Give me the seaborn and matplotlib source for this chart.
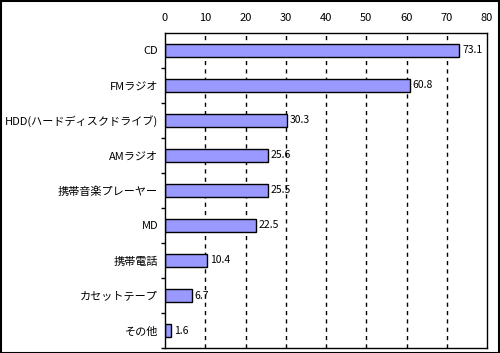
import matplotlib
matplotlib.use('Agg')
import matplotlib.pyplot as plt
import seaborn as sns
import pandas as pd
import numpy as np
from matplotlib.patches import Rectangle

sns.set_theme(style="white")
plt.rcParams['font.family'] = ['Noto Sans CJK JP', 'DejaVu Sans']

categories = ['CD', 'FMラジオ', 'HDD(ハードディスクドライブ)', 'AMラジオ', '携帯音楽プレーヤー',
              'MD', '携帯電話', 'カセットテープ', 'その他']
values = [73.1, 60.8, 30.3, 25.6, 25.5, 22.5, 10.4, 6.7, 1.6]
xticks = [0, 10, 20, 30, 40, 50, 60, 70, 80]

df = pd.DataFrame({'item': categories, 'value': values})

fig = plt.figure(figsize=(5, 3.53), dpi=100)
ax = fig.add_axes([0.33, 0.014, 0.644, 0.893])

sns.barplot(data=df, y='item', x='value', orient='h', color='#9999FF',
            edgecolor='black', linewidth=1, width=0.37, saturation=1, ax=ax)

for i, v in enumerate(values):
    ax.text(v + 0.7, i, f'{v:.1f}', va='center', ha='left', fontsize=7.5, color='black')

ax.set_xlim(0, 80)
ax.set_ylim(len(categories) - 0.5, -0.5)
ax.set_xticks(xticks)
ax.xaxis.tick_top()
ax.tick_params(axis='x', length=0, pad=7, labelsize=8, colors='black')
ax.tick_params(axis='y', length=0, pad=5, labelsize=8, colors='black')
ax.set_yticks(np.arange(len(categories)) + 0.5, minor=True)
ax.tick_params(axis='y', which='minor', length=3, width=1, color='black', direction='out', left=True)
ax.set_xlabel('')
ax.set_ylabel('')

for x in xticks[1:-1]:
    ax.axvline(x, color='black', linestyle=(0, (3, 3)), linewidth=1, zorder=0)

for s in ax.spines.values():
    s.set_color('black')
    s.set_linewidth(1)
    s.set_visible(True)

fig.patches.append(Rectangle((0.001, 0.001), 0.997, 0.997, transform=fig.transFigure,
                             fill=False, edgecolor='black', linewidth=1.5))

fig.savefig('out.png', dpi=100, facecolor='white')
